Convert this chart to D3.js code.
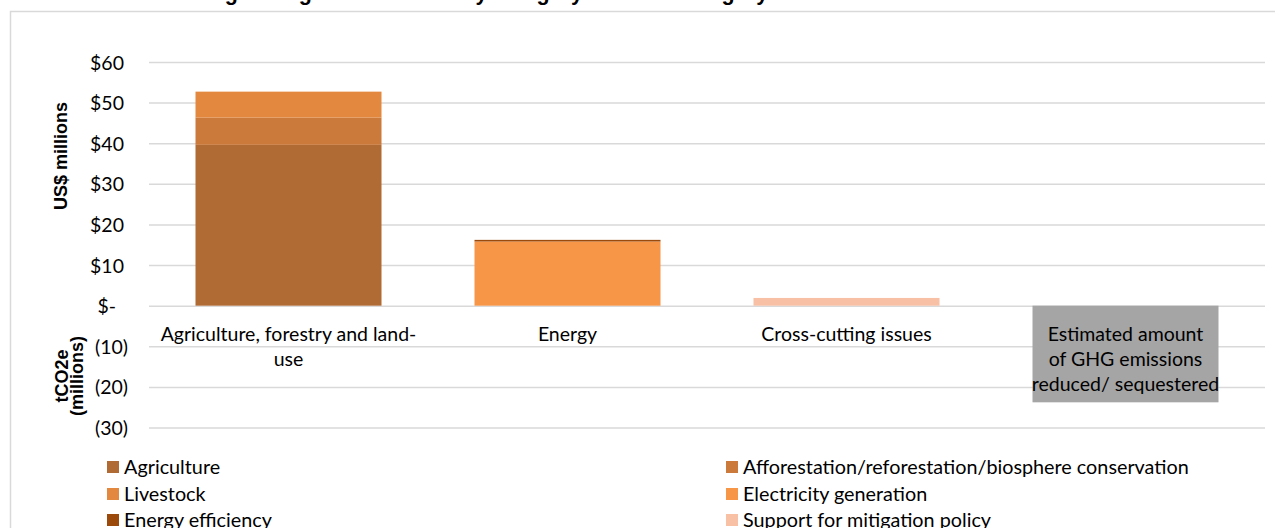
<!DOCTYPE html>
<html>
<head>
<meta charset="utf-8">
<script src="https://cdn.jsdelivr.net/npm/d3@7"></script>
<style>
  html, body { margin: 0; padding: 0; background: #fff; }
  svg { display: block; }
</style>
</head>
<body>
<script>
/* DATA */
var categories = [
  'Agriculture, forestry and land-use',
  'Energy',
  'Cross-cutting issues',
  'Estimated amount of GHG emissions reduced/ sequestered'
];
// label lines as they wrap under the axis
var categoryLines = [
  ['Agriculture, forestry and land-', 'use'],
  ['Energy'],
  ['Cross-cutting issues'],
  ['Estimated amount', 'of GHG emissions', 'reduced/ sequestered']
];
var seriesNames = [
  'Agriculture',
  'Afforestation/reforestation/biosphere conservation',
  'Livestock',
  'Electricity generation',
  'Energy efficiency',
  'Support for mitigation policy',
  'GHG emissions reduced/ sequestered'
];
var agriculture   = [39.6, 0, 0, 0];
var afforestation = [6.7, 0, 0, 0];
var livestock     = [6.4, 0, 0, 0];
var electricity   = [0, 15.8, 0, 0];
var efficiency    = [0, 0.4, 0, 0];
var policy        = [0, 0, 1.9, 0];
var ghgReduced    = [0, 0, 0, -23.8];
var yTicks = [-30, -20, -10, 0, 10, 20, 30, 40, 50, 60];
var title = 'Funding through the Initiative by category and sub-category';

/* STYLE */
var w = 1275, h = 528;
var c = {
  agriculture:   '#B06A33',
  afforestation: '#CB7A3B',
  livestock:     '#E3883F',
  electricity:   '#F79646',
  efficiency:    '#9C4A0B',
  policy:        '#F8C1A6',
  ghg:           '#A5A5A5',
  grid:          '#D9D9D9',
  text:          '#000'
};
var seriesColors = [c.agriculture, c.afforestation, c.livestock, c.electricity, c.efficiency, c.policy, c.ghg];
var bodyFont = 'Lato, "Open Sans", sans-serif';
var boldFont = '"Liberation Sans", Arial, sans-serif';

var plot = { left: 149, right: 1265, top: 62, bottom: 427.5 };

/* TABLE FOR STACK */
var allSeries = [agriculture, afforestation, livestock, electricity, efficiency, policy, ghgReduced];
var table = categories.map(function(cat, i){
  var row = { cat: cat };
  seriesNames.forEach(function(s, j){ row[s] = allSeries[j][i]; });
  return row;
});
var stacked = d3.stack().keys(seriesNames).offset(d3.stackOffsetDiverging)(table);

/* SCALES */
var x = d3.scaleBand()
  .domain(categories)
  .range([plot.left, plot.right])
  .paddingInner(1/3)
  .paddingOuter(1/6);
var y = d3.scaleLinear()
  .domain([-30, 60])
  .range([plot.bottom, plot.top]);

/* SVG */
var svg = d3.select('body').append('svg')
  .attr('width', w)
  .attr('height', h);

// chart frame
svg.append('rect')
  .attr('x', 10.5).attr('y', 11.5)
  .attr('width', w + 20).attr('height', h + 20)
  .attr('fill', '#fff')
  .attr('stroke', c.grid)
  .attr('stroke-width', 1.5);

// title, cut off by the top of the picture
svg.append('text')
  .attr('x', 153).attr('y', 0)
  .attr('font-family', boldFont)
  .attr('font-weight', 'bold')
  .attr('font-size', 21.5)
  .attr('fill', c.text)
  .text(title);

/* GRID */
var grid = svg.append('g')
  .attr('transform', 'translate(' + plot.left + ',0)')
  .call(d3.axisLeft(y).tickValues(yTicks).tickSize(-(plot.right - plot.left)).tickFormat(''));
grid.select('.domain').remove();
grid.selectAll('.tick line').attr('stroke', c.grid).attr('stroke-width', 1.5);

/* BARS */
svg.append('g').selectAll('g')
  .data(stacked)
  .enter().append('g')
    .attr('fill', function(d, i){ return seriesColors[i]; })
  .selectAll('rect')
  .data(function(d){ return d; })
  .enter().append('rect')
    .attr('x', function(d){ return x(d.data.cat); })
    .attr('width', x.bandwidth())
    .attr('y', function(d){ return y(Math.max(d[0], d[1])); })
    .attr('height', function(d){ return Math.abs(y(d[0]) - y(d[1])); });

/* Y AXIS LABELS (accounting style) */
var fmt = function(v){
  if (v === 0) return '$-';
  if (v < 0) return '(' + (-v) + ')';
  return '$' + v;
};
var yAxis = svg.append('g')
  .attr('transform', 'translate(124,0)')
  .call(d3.axisLeft(y).tickValues(yTicks).tickSize(0).tickPadding(0).tickFormat(fmt));
yAxis.select('.domain').remove();
yAxis.selectAll('text')
  .attr('font-family', bodyFont)
  .attr('font-size', 19.5)
  .attr('fill', c.text)
  .attr('dy', '0.36em')
  .attr('x', function(d){ return d < 0 ? 4 : (d === 0 ? -8 : 0); });

/* CATEGORY LABELS */
var catLabels = svg.append('g').selectAll('text')
  .data(categories)
  .enter().append('text')
    .attr('x', function(d){ return x(d) + x.bandwidth() / 2; })
    .attr('y', y(0) + 35.5)
    .attr('text-anchor', 'middle')
    .attr('font-family', bodyFont)
    .attr('font-size', 19.5)
    .attr('fill', c.text);
catLabels.selectAll('tspan')
  .data(function(d, i){ return categoryLines[i]; })
  .enter().append('tspan')
    .attr('x', function(){ var p = this.parentNode; return p.getAttribute('x'); })
    .attr('dy', function(d, i){ return i === 0 ? 0 : 25; })
    .text(function(d){ return d; });

/* AXIS TITLES */
svg.append('text')
  .attr('transform', 'translate(67,156) rotate(-90)')
  .attr('text-anchor', 'middle')
  .attr('font-family', boldFont)
  .attr('font-weight', 'bold')
  .attr('font-size', 18)
  .attr('fill', c.text)
  .text('US$ millions');

var t2 = svg.append('text')
  .attr('transform', 'translate(68,376) rotate(-90)')
  .attr('text-anchor', 'middle')
  .attr('font-family', boldFont)
  .attr('font-weight', 'bold')
  .attr('font-size', 18)
  .attr('fill', c.text);
t2.append('tspan').attr('x', 0).attr('dy', 0).text('tCO2e');
t2.append('tspan').attr('x', 0).attr('dy', 15).text('(millions)');

/* LEGEND */
var legendItems = seriesNames.slice(0, 6);
var legendCols = [107, 726];
var legendRows = [467, 494, 520];
var legend = svg.append('g').selectAll('g')
  .data(legendItems)
  .enter().append('g')
    .attr('transform', function(d, i){
      return 'translate(' + legendCols[i % 2] + ',' + legendRows[Math.floor(i / 2)] + ')';
    });
legend.append('rect')
  .attr('x', 0).attr('y', -6)
  .attr('width', 12).attr('height', 12)
  .attr('fill', function(d, i){ return seriesColors[i]; });
legend.append('text')
  .attr('x', 17).attr('dy', '0.36em')
  .attr('font-family', bodyFont)
  .attr('font-size', 19.8)
  .attr('fill', c.text)
  .text(function(d){ return d; });
</script>
</body>
</html>
